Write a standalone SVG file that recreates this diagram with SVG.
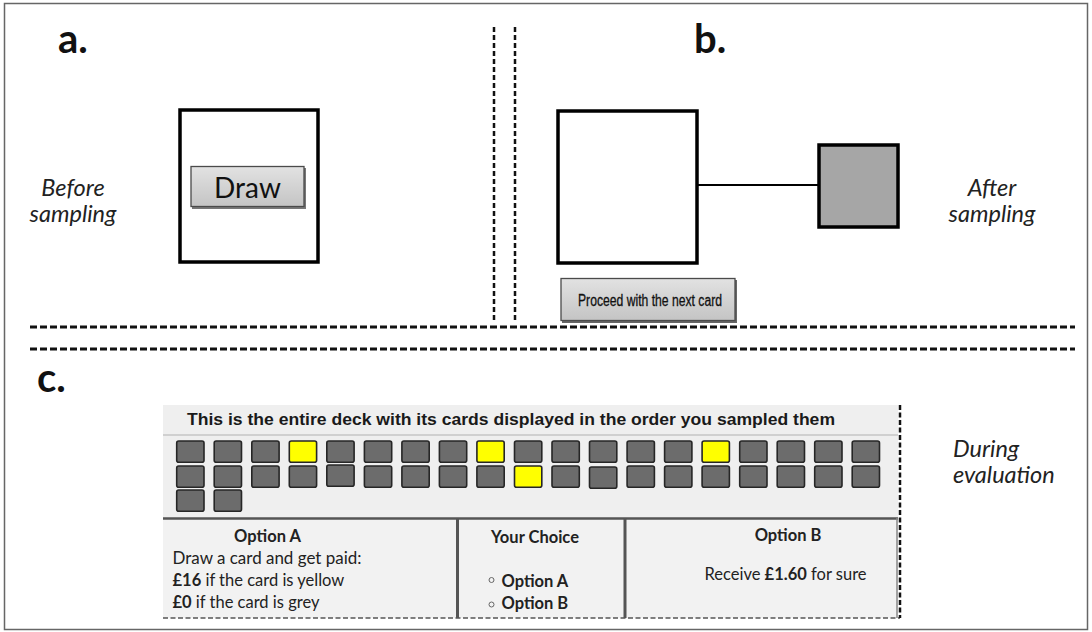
<svg xmlns="http://www.w3.org/2000/svg" width="1092" height="632" viewBox="0 0 1092 632">
<defs>
<linearGradient id="btn" x1="0" y1="0" x2="0" y2="1">
<stop offset="0" stop-color="#e2e2e2"/>
<stop offset="1" stop-color="#c4c4c4"/>
</linearGradient>
<style>
.lbl{font-family:Lato,"Liberation Sans",sans-serif;font-weight:bold;font-size:40px;fill:#111}
.side{font-family:Lato,"Open Sans",sans-serif;font-style:italic;font-size:23.5px;fill:#222}
.box{fill:#fff;stroke:#000;stroke-width:3.5}
.vd{stroke:#111;stroke-width:2.5;stroke-dasharray:5 3;fill:none}
.hd{stroke:#111;stroke-width:3;stroke-dasharray:7 3;fill:none}
.card{fill:#6c6c6c;stroke:#262626;stroke-width:1.6}
.y{fill:#ffff00}
.t{font-family:Lato,"Open Sans",sans-serif;font-size:16.5px;fill:#222}
.b{font-weight:bold}
.btnr{fill:url(#btn);stroke:#4a4a4a;stroke-width:1.3}
</style>
</defs>
<rect x="4.5" y="3.5" width="1083" height="626" fill="#fff" stroke="#666" stroke-width="1.5"/>

<g id="separators">
<line class="vd" x1="494" y1="27" x2="494" y2="320"/>
<line class="vd" x1="515" y1="27" x2="515" y2="320"/>
<line class="hd" x1="30" y1="327" x2="1075" y2="327"/>
<line class="hd" x1="30" y1="349" x2="1075" y2="349"/>
</g>

<g id="panel-a">
<text class="lbl" x="58" y="53">a.</text>
<text class="side" x="73" y="196" text-anchor="middle">Before</text>
<text class="side" x="73" y="222" text-anchor="middle">sampling</text>
<g id="deck-a">
<rect class="box" x="180" y="110" width="138" height="152"/>
</g>
<g id="draw-button">
<rect x="192" y="168" width="114" height="41" fill="#777"/>
<rect class="btnr" x="191" y="166.5" width="113" height="40"/>
<text x="247.5" y="198" text-anchor="middle" font-family="Lato,'Open Sans',sans-serif" font-size="28" fill="#111">Draw</text>
</g>
</g>

<g id="panel-b">
<text class="lbl" x="694" y="53">b.</text>
<text class="side" x="992" y="196" text-anchor="middle">After</text>
<text class="side" x="992" y="222" text-anchor="middle">sampling</text>
<g id="deck-b">
<rect class="box" x="558" y="111" width="139" height="152"/>
</g>
<g id="drawn-card">
<rect x="819" y="145" width="79" height="82" fill="#a6a6a6" stroke="#000" stroke-width="3.5"/>
</g>
<g id="proceed-button">
<rect x="562" y="280" width="175" height="43" fill="#666"/>
<rect class="btnr" x="561" y="278.5" width="174" height="42"/>
<text x="650" y="306" text-anchor="middle" font-family="'Liberation Sans',Arial,sans-serif" font-size="16" fill="#111" stroke="#111" stroke-width="0.3" textLength="144" lengthAdjust="spacingAndGlyphs">Proceed with the next card</text>
</g>
</g>

<g id="connectors">
<line x1="697" y1="185" x2="819" y2="185" stroke="#000" stroke-width="2"/>
</g>

<g id="panel-c">
<text class="lbl" x="37" y="392">c.</text>
<text class="side" x="953" y="457">During</text>
<text class="side" x="953" y="483">evaluation</text>
<g id="deck-display">
<rect x="163" y="405" width="735" height="113" fill="#efefef"/>
<line x1="163" y1="435" x2="898" y2="435" stroke="#c6c6c6" stroke-width="1.5"/>
<text x="187" y="425" font-family="'Liberation Sans',Arial,sans-serif" font-weight="bold" font-size="16.5" fill="#1a1a1a" textLength="648" lengthAdjust="spacingAndGlyphs">This is the entire deck with its cards displayed in the order you sampled them</text>
<g id="cards">
<rect class="card" x="176.7" y="441" width="27.3" height="21.3" rx="2"/>
<rect class="card" x="214.2" y="441" width="27.3" height="21.3" rx="2"/>
<rect class="card" x="251.8" y="441" width="27.3" height="21.3" rx="2"/>
<rect class="card y" x="289.3" y="441" width="27.3" height="21.3" rx="2"/>
<rect class="card" x="326.8" y="441" width="27.3" height="21.3" rx="2"/>
<rect class="card" x="364.4" y="441" width="27.3" height="21.3" rx="2"/>
<rect class="card" x="401.9" y="441" width="27.3" height="21.3" rx="2"/>
<rect class="card" x="439.4" y="441" width="27.3" height="21.3" rx="2"/>
<rect class="card y" x="476.9" y="441" width="27.3" height="21.3" rx="2"/>
<rect class="card" x="514.5" y="441" width="27.3" height="21.3" rx="2"/>
<rect class="card" x="552.0" y="441" width="27.3" height="21.3" rx="2"/>
<rect class="card" x="589.5" y="441" width="27.3" height="21.3" rx="2"/>
<rect class="card" x="627.1" y="441" width="27.3" height="21.3" rx="2"/>
<rect class="card" x="664.6" y="441" width="27.3" height="21.3" rx="2"/>
<rect class="card y" x="702.1" y="441" width="27.3" height="21.3" rx="2"/>
<rect class="card" x="739.7" y="441" width="27.3" height="21.3" rx="2"/>
<rect class="card" x="777.2" y="441" width="27.3" height="21.3" rx="2"/>
<rect class="card" x="814.7" y="441" width="27.3" height="21.3" rx="2"/>
<rect class="card" x="852.2" y="441" width="27.3" height="21.3" rx="2"/>
<rect class="card" x="176.7" y="466" width="27.3" height="21.3" rx="2"/>
<rect class="card" x="214.2" y="466" width="27.3" height="21.3" rx="2"/>
<rect class="card" x="251.8" y="466" width="27.3" height="21.3" rx="2"/>
<rect class="card" x="289.3" y="466" width="27.3" height="21.3" rx="2"/>
<rect class="card" x="326.8" y="465" width="27.3" height="21.3" rx="2"/>
<rect class="card" x="364.4" y="466" width="27.3" height="21.3" rx="2"/>
<rect class="card" x="401.9" y="466" width="27.3" height="21.3" rx="2"/>
<rect class="card" x="439.4" y="466" width="27.3" height="21.3" rx="2"/>
<rect class="card" x="476.9" y="466" width="27.3" height="21.3" rx="2"/>
<rect class="card y" x="514.5" y="466" width="27.3" height="21.3" rx="2"/>
<rect class="card" x="552.0" y="466" width="27.3" height="21.3" rx="2"/>
<rect class="card" x="589.5" y="467" width="27.3" height="21.3" rx="2"/>
<rect class="card" x="627.1" y="466" width="27.3" height="21.3" rx="2"/>
<rect class="card" x="664.6" y="466" width="27.3" height="21.3" rx="2"/>
<rect class="card" x="702.1" y="466" width="27.3" height="21.3" rx="2"/>
<rect class="card" x="739.7" y="466" width="27.3" height="21.3" rx="2"/>
<rect class="card" x="777.2" y="466" width="27.3" height="21.3" rx="2"/>
<rect class="card" x="814.7" y="466" width="27.3" height="21.3" rx="2"/>
<rect class="card" x="852.2" y="466" width="27.3" height="21.3" rx="2"/>
<rect class="card" x="176.7" y="490" width="27.3" height="21.3" rx="2"/>
<rect class="card" x="214.2" y="490" width="27.3" height="21.3" rx="2"/>
</g>
</g>
<g id="choice-table">
<rect x="163" y="518" width="735" height="100" fill="#f2f2f2"/>
<line x1="163" y1="518.5" x2="898" y2="518.5" stroke="#555" stroke-width="2.5"/>
<line x1="457.5" y1="518" x2="457.5" y2="618" stroke="#555" stroke-width="3"/>
<line x1="625" y1="518" x2="625" y2="618" stroke="#555" stroke-width="3"/>
<line x1="897" y1="518" x2="897" y2="618" stroke="#888" stroke-width="1.5"/>
<line x1="163" y1="618" x2="900" y2="618" stroke="#555" stroke-width="1.5" stroke-dasharray="5 2.5"/>
<g id="option-a">
<text class="t b" x="267.5" y="542" text-anchor="middle">Option A</text>
<text class="t" x="172.5" y="563.5" textLength="189" lengthAdjust="spacingAndGlyphs">Draw a card and get paid:</text>
<text class="t" x="172.5" y="586"><tspan class="b">£16</tspan> if the card is yellow</text>
<text class="t" x="172.5" y="607.5"><tspan class="b">£0</tspan> if the card is grey</text>
</g>
<g id="your-choice">
<text class="t b" x="535" y="542.5" text-anchor="middle">Your Choice</text>
<circle cx="491.5" cy="580" r="2.5" fill="none" stroke="#666" stroke-width="1"/>
<text class="t b" x="501.5" y="587">Option A</text>
<circle cx="491.5" cy="604.5" r="2.5" fill="none" stroke="#666" stroke-width="1"/>
<text class="t b" x="501.5" y="609">Option B</text>
</g>
<g id="option-b">
<text class="t b" x="788" y="541" text-anchor="middle">Option B</text>
<text class="t" x="785.5" y="580" text-anchor="middle" font-size="17.5">Receive <tspan class="b">£1.60</tspan> for sure</text>
</g>
</g>
<line x1="900" y1="405" x2="900" y2="618" stroke="#111" stroke-width="2.5" stroke-dasharray="5 2.5"/>
</g>
</svg>
